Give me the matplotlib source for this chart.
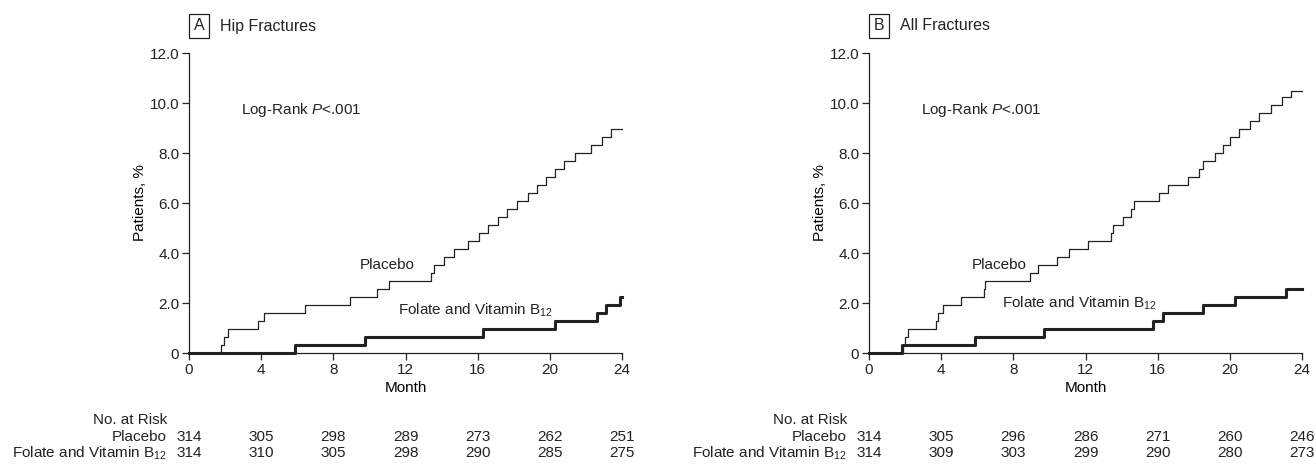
import matplotlib
matplotlib.use("Agg")
import matplotlib.pyplot as plt
import matplotlib.transforms as mtransforms

plt.rcParams.update({
    "font.family": "Liberation Sans",
    "font.size": 11,
    "mathtext.fontset": "custom",
    "mathtext.rm": "Liberation Sans",
    "mathtext.it": "Liberation Sans:italic",
    "text.color": "#222222",
    "axes.edgecolor": "#222222",
    "xtick.color": "#222222",
    "ytick.color": "#222222",
})

# month ticks and at-risk tables
months = [0, 4, 8, 12, 16, 20, 24]
risk_a_placebo = [314, 305, 298, 289, 273, 262, 251]
risk_a_folate = [314, 310, 305, 298, 290, 285, 275]
risk_b_placebo = [314, 305, 296, 286, 271, 260, 246]
risk_b_folate = [314, 309, 303, 299, 290, 280, 273]

# panel A: hip fractures, cumulative %
a_plac_t = [0, 1.8, 1.95, 2.15, 3.8, 4.15, 6.45, 8.95, 10.4, 11.1, 13.4, 13.6,
            14.15, 14.7, 15.45, 16.1, 16.6, 17.1, 17.6, 18.2, 18.8, 19.3, 19.8,
            20.3, 20.8, 21.4, 22.3, 22.9, 23.4, 24]
a_plac_v = [0, 0.32, 0.64, 0.96, 1.27, 1.59, 1.91, 2.23, 2.55, 2.87, 3.19, 3.51,
            3.83, 4.15, 4.47, 4.79, 5.11, 5.43, 5.75, 6.07, 6.39, 6.71, 7.03,
            7.35, 7.67, 7.99, 8.31, 8.63, 8.95, 8.95]
a_fol_t = [0, 5.9, 9.73, 16.3, 20.3, 22.6, 23.1, 23.9, 24]
a_fol_v = [0, 0.32, 0.64, 0.96, 1.28, 1.60, 1.92, 2.24, 2.24]

# panel B: all fractures, cumulative %
b_plac_t = [0, 1.87, 2.0, 2.15, 3.7, 3.85, 4.1, 5.08, 6.37, 6.45, 8.9, 9.37,
            10.4, 11.1, 12.15, 13.4, 13.55, 14.1, 14.5, 14.7, 16.05, 16.6, 17.7,
            18.3, 18.5, 19.2, 19.6, 20.0, 20.5, 21.1, 21.6, 22.3, 22.9, 23.4, 24]
b_plac_v = [0, 0.32, 0.64, 0.96, 1.28, 1.60, 1.92, 2.24, 2.56, 2.88, 3.20, 3.52,
            3.84, 4.16, 4.48, 4.80, 5.12, 5.44, 5.76, 6.08, 6.40, 6.72, 7.04,
            7.36, 7.68, 8.00, 8.32, 8.64, 8.96, 9.28, 9.60, 9.92, 10.24, 10.50, 10.50]
b_fol_t = [0, 1.85, 5.9, 9.68, 15.73, 16.3, 18.5, 20.3, 23.1, 24]
b_fol_v = [0, 0.32, 0.64, 0.96, 1.28, 1.60, 1.92, 2.24, 2.56, 2.56]

panels = [
    dict(letter="A", title="Hip Fractures", left=189,
         plac=(a_plac_t, a_plac_v), fol=(a_fol_t, a_fol_v),
         plac_lbl=(9.45, 3.52), fol_lbl=(11.6, 1.70),
         risk=(risk_a_placebo, risk_a_folate)),
    dict(letter="B", title="All Fractures", left=869,
         plac=(b_plac_t, b_plac_v), fol=(b_fol_t, b_fol_v),
         plac_lbl=(5.68, 3.52), fol_lbl=(7.39, 1.99),
         risk=(risk_b_placebo, risk_b_folate)),
]

W, H = 1316, 473
fig = plt.figure(figsize=(W / 100, H / 100), dpi=100)
col = "#222222"

for p in panels:
    ax = fig.add_axes([p["left"] / W, 120 / H, 433 / W, 300 / H])
    ax.plot(*p["plac"], drawstyle="steps-post", color=col, lw=0.9, clip_on=False)
    ax.plot(*p["fol"], drawstyle="steps-post", color=col, lw=2.2, clip_on=False)
    ax.set_xlim(0, 24)
    ax.set_ylim(0, 12)
    ax.set_xticks(months)
    ax.set_yticks([0, 2, 4, 6, 8, 10, 12])
    ax.set_yticklabels(["0", "2.0", "4.0", "6.0", "8.0", "10.0", "12.0"])
    for s in ("top", "right"):
        ax.spines[s].set_visible(False)
    for s in ("left", "bottom"):
        ax.spines[s].set_linewidth(0.9)
    ax.tick_params(length=5, width=0.9, labelsize=11, pad=2)
    ax.set_xlabel("Month", fontsize=11, labelpad=3)
    ax.set_ylabel("Patients, %", fontsize=11, labelpad=2)

    ax.text(2.88, 9.72, "Log-Rank $P$<.001", fontsize=11, va="center")
    ax.text(*p["plac_lbl"], "Placebo", fontsize=11, va="center")
    ax.text(*p["fol_lbl"], "Folate and Vitamin B$_{12}$", fontsize=11, va="center")

    # panel header
    fig.text((p["left"] + 10) / W, 1 - 26 / H, p["letter"], fontsize=11.5,
             ha="center", va="center",
             bbox=dict(boxstyle="square,pad=0.3", fc="white", ec=col, lw=0.9))
    fig.text((p["left"] + 31) / W, 1 - 26 / H, p["title"], fontsize=11.5,
             ha="left", va="center")

    # number at risk table
    tr_lab = mtransforms.blended_transform_factory(ax.transAxes, fig.transFigure)
    tr_num = mtransforms.blended_transform_factory(ax.transData, fig.transFigure)
    lx = -22 / 433
    ys = [1 - 420 / H, 1 - 437 / H, 1 - 453 / H]
    ax.text(lx, ys[0], "No. at Risk", transform=tr_lab, ha="right", va="center", fontsize=11)
    ax.text(lx, ys[1], "Placebo", transform=tr_lab, ha="right", va="center", fontsize=11)
    ax.text(lx, ys[2], "Folate and Vitamin B$_{12}$", transform=tr_lab, ha="right",
            va="center", fontsize=11)
    for row, y in zip(p["risk"], ys[1:]):
        for m, n in zip(months, row):
            ax.text(m, y, str(n), transform=tr_num, ha="center", va="center", fontsize=11)

fig.savefig("out.png", dpi=100, facecolor="white")
